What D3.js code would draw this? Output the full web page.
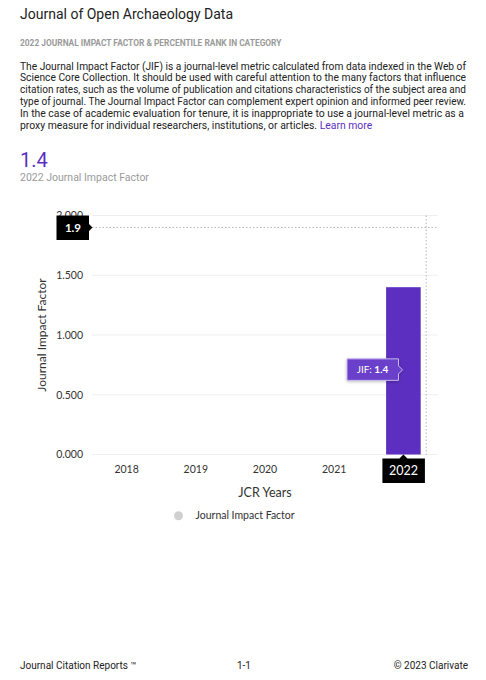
<!DOCTYPE html>
<html>
<head>
<meta charset="utf-8">
<script src="https://cdn.jsdelivr.net/npm/d3@7"></script>
<style>
  html, body { margin: 0; padding: 0; background: #fff; }
  svg { display: block; }
</style>
</head>
<body>
<svg id="chart" width="486" height="680"></svg>
<script>
// ---- data ----
const years = ["2018", "2019", "2020", "2021", "2022"];
const jifValues = [null, null, null, null, 1.4];
const yTicks = [0, 0.5, 1.0, 1.5, 2.0];
const referenceValue = 1.9;
const selectedYear = "2022";
const journalTitle = "Journal of Open Archaeology Data";
const sectionTitle = "2022 JOURNAL IMPACT FACTOR & PERCENTILE RANK IN CATEGORY";
const paragraphLines = [
  "The Journal Impact Factor (JIF) is a journal-level metric calculated from data indexed in the Web of",
  "Science Core Collection. It should be used with careful attention to the many factors that influence",
  "citation rates, such as the volume of publication and citations characteristics of the subject area and",
  "type of journal. The Journal Impact Factor can complement expert opinion and informed peer review.",
  "In the case of academic evaluation for tenure, it is inappropriate to use a journal-level metric as a",
  "proxy measure for individual researchers, institutions, or articles. "
];
const learnMore = "Learn more";
const headlineValue = "1.4";
const headlineLabel = "2022 Journal Impact Factor";
const footer = ["Journal Citation Reports \u2122", "1-1", "\u00A9 2023 Clarivate"];

// ---- drawing ----
const svg = d3.select("#chart");
const textFont = "Roboto, 'Noto Sans', sans-serif";
const chartFont = "Lato, 'Open Sans', sans-serif";
const purple = "#5c2fc0";

svg.append("text").attr("x", 20).attr("y", 19)
  .attr("font-family", textFont).attr("font-size", 14).attr("fill", "#222")
  .text(journalTitle);

svg.append("text").attr("x", 20).attr("y", 46)
  .attr("font-family", textFont).attr("font-size", 8.4).attr("font-weight", 700)
  .attr("fill", "#9a9a9a").text(sectionTitle);

const maxLineWidth = 446;
paragraphLines.forEach((line, i) => {
  const t = svg.append("text").attr("font-family", textFont)
    .attr("font-size", 10.4).attr("fill", "#222")
    .attr("x", 20).attr("y", 69.5 + i * 11.9);
  t.append("tspan").text(line);
  if (i === paragraphLines.length - 1) {
    t.append("tspan").attr("fill", purple).text(learnMore);
  }
  const w = t.node().getComputedTextLength();
  if (w > maxLineWidth) {
    t.attr("textLength", maxLineWidth).attr("lengthAdjust", "spacingAndGlyphs");
  }
});

svg.append("text").attr("x", 20).attr("y", 167)
  .attr("font-family", textFont).attr("font-size", 20).attr("fill", purple)
  .text(headlineValue);
svg.append("text").attr("x", 20).attr("y", 180.5)
  .attr("font-family", textFont).attr("font-size", 10.5).attr("fill", "#9a9a9a")
  .text(headlineLabel);

// chart
const x = d3.scaleBand().domain(years).range([92, 438]).paddingInner(0.5).paddingOuter(0.25);
const y = d3.scaleLinear().domain([0, 2]).range([454.5, 215.5]);

// gridlines
svg.append("g").selectAll("line").data(yTicks).join("line")
  .attr("x1", 92).attr("x2", 438)
  .attr("y1", d => y(d)).attr("y2", d => y(d))
  .attr("stroke", "#efefef").attr("stroke-width", 1);

// y axis labels
const yAxis = d3.axisLeft(y).tickValues(yTicks).tickFormat(d3.format(".3f")).tickSize(0).tickPadding(0);
const yg = svg.append("g").attr("transform", "translate(83,0)").call(yAxis);
yg.select(".domain").remove();
yg.selectAll("text").attr("font-family", chartFont).attr("font-size", 10.5).attr("fill", "#333");

// x axis labels (selected year is shown in its highlight box instead)
const xAxis = d3.axisBottom(x).tickSize(0).tickPadding(0);
const xg = svg.append("g").attr("transform", "translate(0,465)").call(xAxis);
xg.select(".domain").remove();
xg.selectAll("text").attr("font-family", chartFont).attr("font-size", 10.5).attr("fill", "#333")
  .attr("dy", "0.35em").attr("y", 4);
xg.selectAll(".tick").filter(d => d === selectedYear).remove();

// bars
const barData = years.map((yr, i) => ({ year: yr, value: jifValues[i] })).filter(d => d.value != null);
svg.append("g").selectAll("rect").data(barData).join("rect")
  .attr("x", d => x(d.year)).attr("width", x.bandwidth())
  .attr("y", d => y(d.value)).attr("height", d => y(0) - y(d.value))
  .attr("fill", purple);

// crosshair lines
const cx = x(selectedYear) + x.bandwidth() + 5.5;
svg.append("line").attr("x1", 92).attr("x2", 438)
  .attr("y1", y(referenceValue)).attr("y2", y(referenceValue))
  .attr("stroke", "#b5b5b5").attr("stroke-dasharray", "1.5,2").attr("stroke-width", 1);
svg.append("line").attr("x1", cx).attr("x2", cx)
  .attr("y1", y(2)).attr("y2", y(0))
  .attr("stroke", "#b5b5b5").attr("stroke-dasharray", "1.5,2").attr("stroke-width", 1);

// reference label box "1.9"
const ry = y(referenceValue);
const refG = svg.append("g");
refG.append("path")
  .attr("d", `M56.5,${ry - 12} H89 V${ry - 3.5} L92.5,${ry} L89,${ry + 3.5} V${ry + 12.5} H56.5 Z`)
  .attr("fill", "#000");
refG.append("text").attr("x", 73).attr("y", ry).attr("dy", "0.36em")
  .attr("text-anchor", "middle").attr("font-family", chartFont).attr("font-size", 11.5)
  .attr("font-weight", 700).attr("fill", "#fff").text(d3.format(".1f")(referenceValue));

// x label box "2022"
const bx = x(selectedYear) + x.bandwidth() / 2;
const xbG = svg.append("g");
xbG.append("path")
  .attr("d", `M${bx - 21},458.5 H${bx - 4} L${bx},454.5 L${bx + 4},458.5 H${bx + 21.5} V483 H${bx - 21} Z`)
  .attr("fill", "#000");
xbG.append("text").attr("x", bx).attr("y", 470.8).attr("dy", "0.36em")
  .attr("text-anchor", "middle").attr("font-family", chartFont).attr("font-size", 12.5)
  .attr("fill", "#fff").text(selectedYear);

// JIF tooltip
const defs = svg.append("defs");
const f = defs.append("filter").attr("id", "shadow").attr("x", "-30%").attr("y", "-50%").attr("width", "160%").attr("height", "200%");
f.append("feDropShadow").attr("dx", 0).attr("dy", 1).attr("stdDeviation", 1.5).attr("flood-color", "#000").attr("flood-opacity", 0.25);
const tv = jifValues[years.indexOf(selectedYear)];
const ty = y(tv / 2) - 1;
const tG = svg.append("g");
tG.append("path")
  .attr("d", `M347,${ty - 11} H398.5 V${ty - 4} L402.5,${ty} L398.5,${ty + 4} V${ty + 10.5} H347 Z`)
  .attr("fill", "#6a3fca").attr("stroke", "#c9b8ef").attr("stroke-width", 1)
  .attr("stroke-linejoin", "round").attr("filter", "url(#shadow)");
const tt = tG.append("text").attr("x", 372.5).attr("y", ty).attr("dy", "0.36em")
  .attr("text-anchor", "middle").attr("font-family", chartFont).attr("font-size", 10)
  .attr("fill", "#fff");
tt.append("tspan").text("JIF: ");
tt.append("tspan").attr("font-weight", 700).text(d3.format(".1f")(tv));

// axis titles
svg.append("text").attr("transform", `translate(46,${y(1)}) rotate(-90)`)
  .attr("text-anchor", "middle").attr("font-family", chartFont).attr("font-size", 12)
  .attr("fill", "#333").text("Journal Impact Factor");
svg.append("text").attr("x", 265).attr("y", 492).attr("dy", "0.36em")
  .attr("text-anchor", "middle").attr("font-family", chartFont).attr("font-size", 12.5)
  .attr("fill", "#333").text("JCR Years");

// legend
svg.append("circle").attr("cx", 178.5).attr("cy", 515.7).attr("r", 4.5).attr("fill", "#d0d0d0");
svg.append("text").attr("x", 195.5).attr("y", 515.7).attr("dy", "0.36em")
  .attr("font-family", chartFont).attr("font-size", 10.5).attr("fill", "#333")
  .text("Journal Impact Factor");

// footer
svg.append("text").attr("x", 20).attr("y", 668.5)
  .attr("font-family", textFont).attr("font-size", 10).attr("fill", "#222").text(footer[0]);
svg.append("text").attr("x", 244).attr("y", 668.5).attr("text-anchor", "middle")
  .attr("font-family", textFont).attr("font-size", 10).attr("fill", "#222").text(footer[1]);
svg.append("text").attr("x", 468).attr("y", 668.5).attr("text-anchor", "end")
  .attr("font-family", textFont).attr("font-size", 10).attr("fill", "#222").text(footer[2]);
</script>
</body>
</html>
